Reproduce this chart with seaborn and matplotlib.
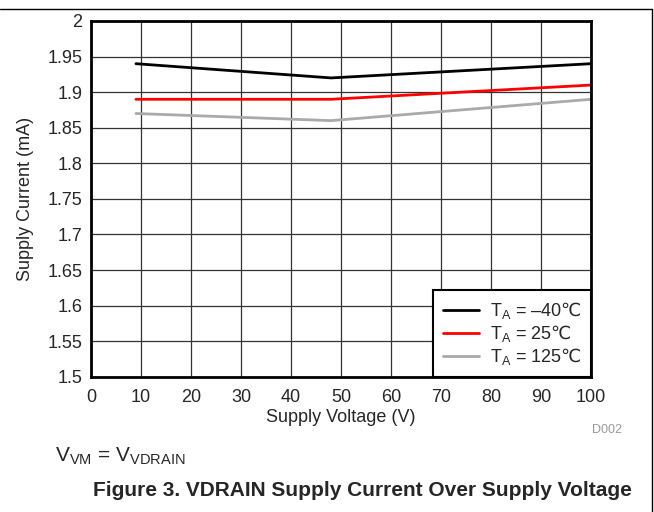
import pandas as pd
import seaborn as sns
import matplotlib.pyplot as plt
from matplotlib.lines import Line2D

voltage = [9, 48, 100]
i_m40 = [1.94, 1.92, 1.94]
i_25 = [1.89, 1.89, 1.91]
i_125 = [1.87, 1.86, 1.89]
labels = ['T$_\\mathregular{A}$ = \u201340$\\mathsf{\u2103}$',
          'T$_\\mathregular{A}$ = 25$\\mathsf{\u2103}$',
          'T$_\\mathregular{A}$ = 125$\\mathsf{\u2103}$']
colors = ['black', '#ff0000', '#aaaaaa']

df = pd.concat([
    pd.DataFrame({'v': voltage, 'i': i_m40, 'temp': labels[0]}),
    pd.DataFrame({'v': voltage, 'i': i_25, 'temp': labels[1]}),
    pd.DataFrame({'v': voltage, 'i': i_125, 'temp': labels[2]}),
])

sns.set_style('white')
plt.rcParams['font.family'] = ['Liberation Sans', 'DejaVu Sans']
plt.rcParams['mathtext.fontset'] = 'custom'
plt.rcParams['mathtext.rm'] = 'Liberation Sans'
plt.rcParams['mathtext.sf'] = 'DejaVu Sans'

fig = plt.figure(figsize=(6.54, 5.12), dpi=100)
ax = fig.add_axes([0.139, 0.264, 0.765, 0.695])
sns.lineplot(data=df, x='v', y='i', hue='temp', palette=colors, linewidth=2, ax=ax, legend=False)

ax.set_xlim(0, 100)
ax.set_ylim(1.5, 2.0)
ax.set_xticks(range(0, 101, 10))
ax.set_yticks([1.5 + 0.05 * k for k in range(11)])
ax.set_yticklabels(['1.5', '1.55', '1.6', '1.65', '1.7', '1.75', '1.8', '1.85', '1.9', '1.95', '2'])
ax.grid(True, color='#333333', linewidth=0.9)
ax.tick_params(labelsize=13, length=0)
ax.tick_params(axis='x', pad=9)
ax.tick_params(axis='y', pad=6)
for s in ax.spines.values():
    s.set_linewidth(2)
    s.set_color('black')
ax.set_xlabel('Supply Voltage (V)', fontsize=13, labelpad=2)
ax.set_ylabel('Supply Current (mA)', fontsize=13, labelpad=10)

handles = [Line2D([], [], color=c, linewidth=2) for c in colors]
leg = ax.legend(handles, labels, loc='lower right', fontsize=13, frameon=True, fancybox=False,
                edgecolor='black', framealpha=1, borderaxespad=0, handlelength=2.0,
                labelspacing=0.1, borderpad=0.55, handletextpad=0.6)
leg.get_frame().set_linewidth(1.5)

fig.text(607 / 654, 1 - 430 / 512, 'D002', color='#999999', fontsize=9, ha='center', va='center')
fig.text(55 / 654, 1 - 456 / 512, 'V$_\\mathregular{VM}$ = V$_\\mathregular{VDRAIN}$', fontsize=15, ha='left', va='center')
fig.text(362 / 654, 1 - 491 / 512, 'Figure 3. VDRAIN Supply Current Over Supply Voltage', fontsize=15,
         fontweight='bold', ha='center', va='center')
fig.add_artist(Line2D([0, 652 / 654], [1 - 9 / 512] * 2, color='black', linewidth=1, transform=fig.transFigure))
fig.add_artist(Line2D([652 / 654] * 2, [1 - 9 / 512, 0], color='black', linewidth=1, transform=fig.transFigure))

fig.savefig('out.png', dpi=100)
